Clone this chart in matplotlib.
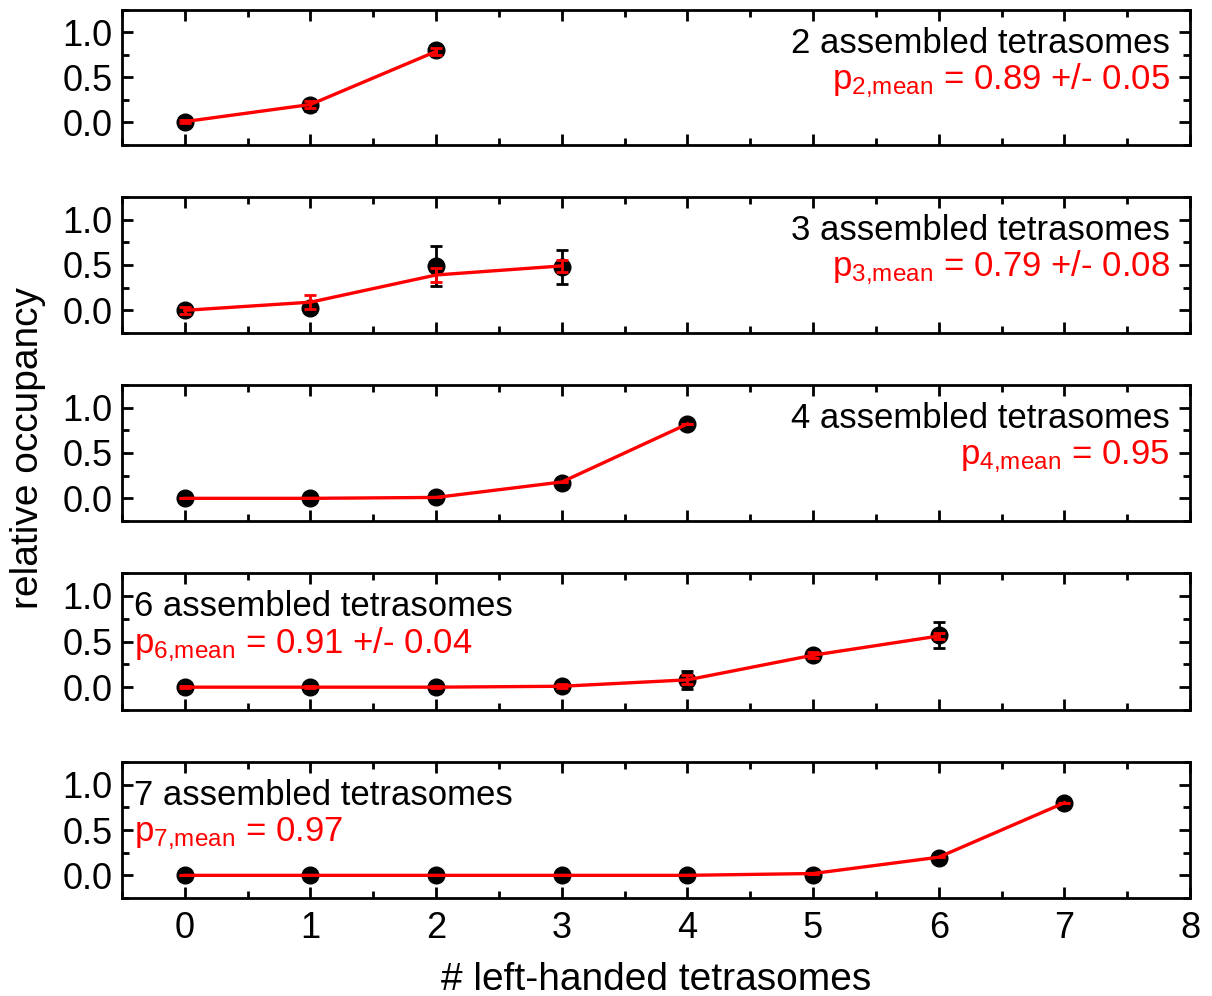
import matplotlib.pyplot as plt
from matplotlib.ticker import MultipleLocator

plt.rcParams['font.family'] = ['Liberation Sans', 'DejaVu Sans']
plt.rcParams['mathtext.fontset'] = 'custom'
plt.rcParams['mathtext.rm'] = 'Liberation Sans'
plt.rcParams['mathtext.it'] = 'Liberation Sans'

# number of assembled tetrasomes per panel
N_ASSEMBLED = [2, 3, 4, 6, 7]

# measured relative occupancy (black) with errors
meas_y = [
    [0.0, 0.19, 0.80],
    [0.0, 0.03, 0.49, 0.48],
    [0.0, 0.0, 0.01, 0.17, 0.82],
    [0.0, 0.0, 0.0, 0.01, 0.08, 0.35, 0.57],
    [0.0, 0.0, 0.0, 0.0, 0.0, 0.0, 0.19, 0.80],
]
meas_err = [
    [0.03, 0.06, 0.05],
    [0.04, 0.02, 0.22, 0.19],
    [0.0, 0.0, 0.0, 0.0, 0.0],
    [0.0, 0.0, 0.0, 0.0, 0.10, 0.05, 0.14],
    [0.0, 0.0, 0.0, 0.0, 0.0, 0.0, 0.0, 0.0],
]
# binomial model (red) with errors
fit_y = [
    [0.01, 0.20, 0.79],
    [0.0, 0.09, 0.39, 0.49],
    [0.0, 0.0, 0.01, 0.18, 0.82],
    [0.0, 0.0, 0.0, 0.01, 0.08, 0.35, 0.56],
    [0.0, 0.0, 0.0, 0.0, 0.0, 0.02, 0.20, 0.80],
]
fit_err = [
    [0.02, 0.04, 0.04],
    [0.04, 0.08, 0.08, 0.07],
    [0.0, 0.0, 0.0, 0.0, 0.0],
    [0.01, 0.01, 0.01, 0.02, 0.05, 0.03, 0.03],
    [0.0, 0.0, 0.0, 0.0, 0.0, 0.0, 0.0, 0.0],
]
p_labels = ['0.89 +/- 0.05', '0.79 +/- 0.08', '0.95', '0.91 +/- 0.04', '0.97']
text_right = [True, True, True, False, False]

fig = plt.figure(figsize=(12.12, 9.96), dpi=100)
W, H = 1212, 996
left, right = 122, 1190
tops = [10, 197, 385, 573, 762]
heights = [135, 136, 136, 137, 136]

for i, n in enumerate(N_ASSEMBLED):
    ax = fig.add_axes([left / W, 1 - (tops[i] + heights[i]) / H,
                       (right - left) / W, heights[i] / H])
    x = list(range(len(meas_y[i])))
    ax.errorbar(x, meas_y[i], yerr=meas_err[i], fmt='o', color='black',
                ms=12, capsize=4, elinewidth=2, capthick=2, zorder=2)
    ax.errorbar(x, fit_y[i], yerr=fit_err[i], fmt='-', color='red',
                lw=2.4, capsize=4, elinewidth=2, capthick=2, zorder=3)
    ax.set_xlim(-0.5, 8)
    ax.set_ylim(-0.25, 1.25)
    ax.xaxis.set_major_locator(MultipleLocator(1))
    ax.xaxis.set_minor_locator(MultipleLocator(0.5))
    ax.yaxis.set_major_locator(MultipleLocator(0.5))
    ax.yaxis.set_minor_locator(MultipleLocator(0.25))
    ax.tick_params(which='both', direction='in', top=True, right=True,
                   width=2, labelsize=26)
    ax.tick_params(which='major', length=8)
    ax.tick_params(which='minor', length=5)
    ax.tick_params(axis='y', pad=7)
    ax.set_yticks([0.0, 0.5, 1.0])
    ax.set_yticklabels(['0.0', '0.5', '1.0'])
    for s in ax.spines.values():
        s.set_linewidth(2)
    if i < 4:
        ax.tick_params(labelbottom=False)
    else:
        ax.tick_params(axis='x', pad=9)
        ax.set_xlabel('# left-handed tetrasomes', fontsize=28, labelpad=12)

    if text_right[i]:
        tx, ha = 0.981, 'right'
    else:
        tx, ha = 0.011, 'left'
    ax.text(tx, 0.685, f'{n} assembled tetrasomes', transform=ax.transAxes,
            ha=ha, va='baseline', fontsize=25, color='black')
    ax.text(tx, 0.415, r'p$_{\mathregular{%d{,}mean}}$ = %s' % (n, p_labels[i]),
            transform=ax.transAxes, ha=ha, va='baseline', fontsize=25,
            color='red')

fig.text(28 / W, 1 - 448 / H, 'relative occupancy', rotation=90,
         ha='center', va='center', fontsize=28)

fig.savefig('out.png', dpi=100)
